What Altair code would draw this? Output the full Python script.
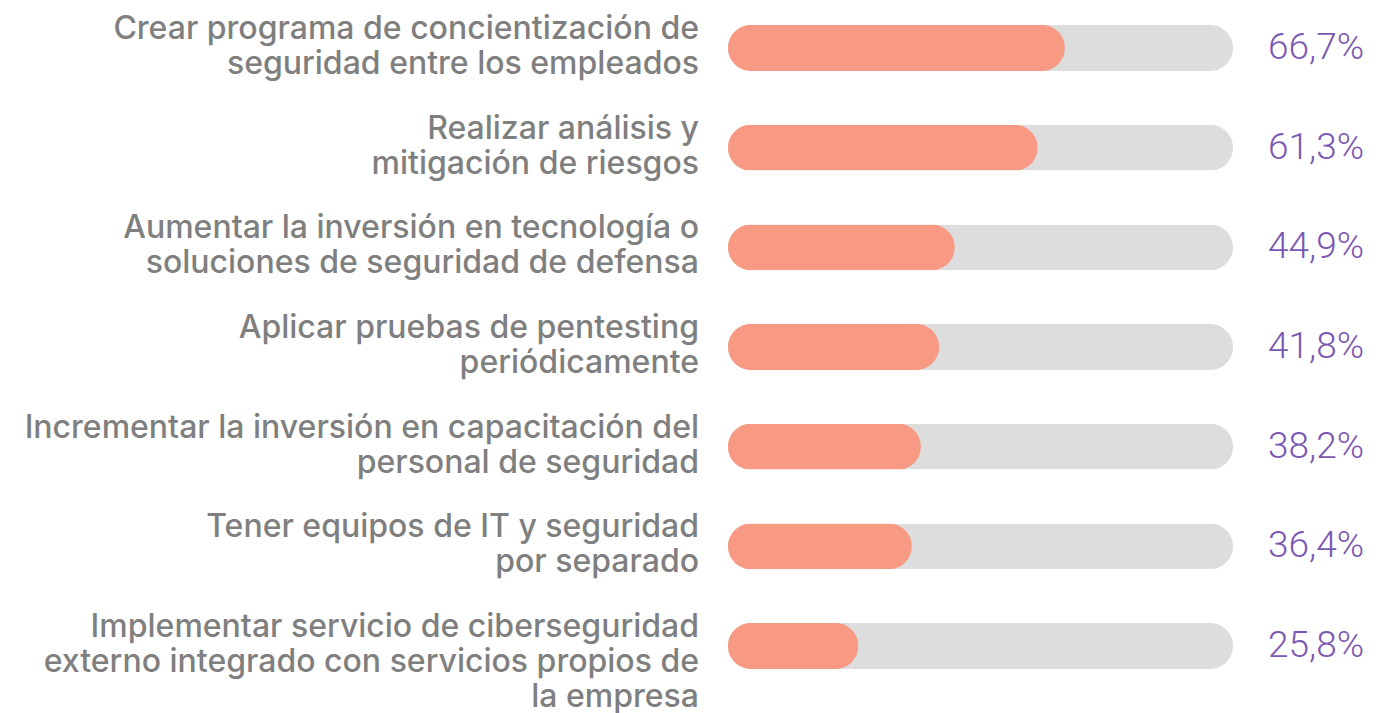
import altair as alt
import pandas as pd

labels = [
    "Crear programa de concientización de\nseguridad entre los empleados",
    "Realizar análisis  y\nmitigación de riesgos",
    "Aumentar la inversión en tecnología o\nsoluciones de seguridad de defensa",
    "Aplicar pruebas de pentesting\nperiódicamente",
    "Incrementar la inversión en capacitación del\npersonal de seguridad",
    "Tener equipos de IT y seguridad\npor separado",
    "Implementar servicio de ciberseguridad\nexterno integrado con servicios propios de\nla empresa",
]
values = [66.7, 61.3, 44.9, 41.8, 38.2, 36.4, 25.8]
value_text = ["66,7%", "61,3%", "44,9%", "41,8%", "38,2%", "36,4%", "25,8%"]

df = pd.DataFrame({"label": labels, "value": values, "text": value_text})

y = alt.Y("label:N", sort=None, axis=None,
          scale=alt.Scale(paddingInner=0.54, paddingOuter=0.171))

base = alt.Chart(df)

track = base.mark_bar(color="#DDDDDD", cornerRadius=23).transform_calculate(
    total="100"
).encode(
    x=alt.X("total:Q", scale=alt.Scale(domain=[0, 100]), axis=None),
    y=y,
)

bars = base.mark_bar(color="#F89A83", cornerRadius=23).encode(
    x=alt.X("value:Q", scale=alt.Scale(domain=[0, 100]), axis=None),
    y=y,
)

cat_text = base.mark_text(
    align="right", baseline="middle", lineBreak="\n", lineHeight=35, dy=-19,
    font="Inter", fontSize=32, fontWeight=500, color="#7F7F7F",
).encode(
    x=alt.value(-29),
    y=y,
    text="label:N",
)

val_text = base.mark_text(
    align="center", baseline="middle",
    font="Roboto", fontSize=37, fontWeight=300, color="#7B58B3",
).encode(
    x=alt.value(588),
    y=y,
    text="text:N",
)

chart = alt.layer(track, bars, cat_text, val_text).properties(
    width=505, height=678,
    padding={"left": 720, "top": 0, "right": 140, "bottom": 30},
    autosize=alt.AutoSizeParams(type="none"),
).configure(background="white").configure_view(stroke=None)

chart.save("out.html", embed_options={"renderer": "svg", "actions": False})
